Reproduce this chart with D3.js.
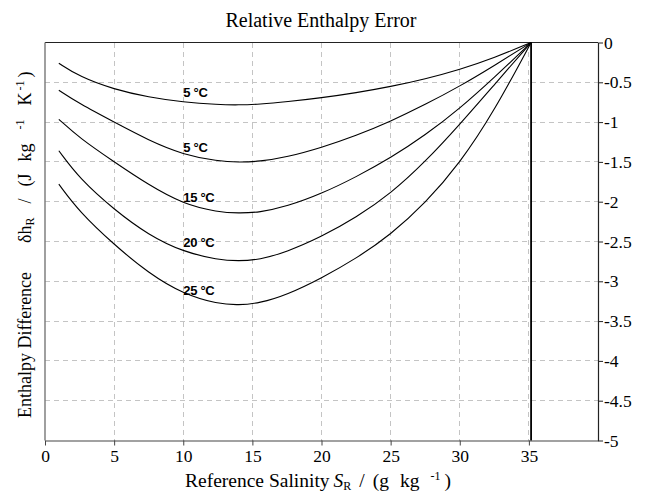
<!DOCTYPE html>
<html>
<head>
<meta charset="utf-8">
<script src="https://cdn.jsdelivr.net/npm/d3@7"></script>
<style>
  html, body { margin: 0; padding: 0; background: #fff; }
  svg { display: block; }
  text { font-family: "Liberation Serif", "Times New Roman", serif; fill: #000; }
</style>
</head>
<body>
<svg id="chart" width="650" height="494"></svg>
<script>
// Reference salinity sample points (g/kg)
const salinity = [1, 2.5, 5, 7.5, 10, 12.5, 14, 15.5, 17.5, 20, 22.5, 25, 27.5, 30, 32.5, 35.16];

// Enthalpy difference (J kg-1 K-1) for each temperature curve
const curve5a = [-0.26, -0.43, -0.59, -0.688, -0.75, -0.781, -0.785, -0.776, -0.745, -0.695, -0.632, -0.555, -0.458, -0.34, -0.192, 0];
const curve5b = [-0.60, -0.77, -1.00, -1.23, -1.41, -1.49, -1.505, -1.495, -1.44, -1.32, -1.17, -0.99, -0.78, -0.55, -0.29, 0];
const curve15 = [-0.965, -1.20, -1.50, -1.79, -2.03, -2.13, -2.145, -2.135, -2.06, -1.90, -1.69, -1.45, -1.165, -0.83, -0.44, 0];
const curve20 = [-1.36, -1.71, -2.10, -2.42, -2.63, -2.73, -2.745, -2.73, -2.63, -2.44, -2.20, -1.90, -1.50, -1.03, -0.53, 0];
const curve25 = [-1.78, -2.13, -2.54, -2.90, -3.16, -3.285, -3.30, -3.275, -3.17, -2.96, -2.715, -2.415, -2.02, -1.52, -0.86, 0];

const curveLabels = ["5 °C", "5 °C", "15 °C", "20 °C", "25 °C"];
const seriesList = [curve5a, curve5b, curve15, curve20, curve25];

// Reference salinity of standard seawater (vertical marker)
const referenceSalinity = 35.16;

// Axis ticks
const xTicks = [0, 5, 10, 15, 20, 25, 30, 35];
const yTicks = [0, -0.5, -1, -1.5, -2, -2.5, -3, -3.5, -4, -4.5, -5];

// Label anchors (salinity, enthalpy) for the curve annotations
const labelAnchorX = 10;
const labelAnchorY = [-0.68, -1.37, -2.01, -2.57, -3.17];

const svg = d3.select("#chart");
const plotLeft = 45, plotRight = 598, plotTop = 42.5, plotBottom = 440.5;

const x = d3.scaleLinear().domain([0, 40]).range([plotLeft, plotRight]);
const y = d3.scaleLinear().domain([-5, 0]).range([plotBottom, plotTop]);

// Grid
const grid = svg.append("g").attr("stroke", "#c4c4c4").attr("stroke-width", 1)
  .attr("stroke-dasharray", "5,4").attr("shape-rendering", "crispEdges");
grid.selectAll("line.v").data(xTicks.filter(d => d > 0)).join("line").attr("class", "v")
  .attr("x1", d => x(d)).attr("x2", d => x(d)).attr("y1", plotTop).attr("y2", plotBottom);
grid.selectAll("line.h").data(yTicks.filter(d => d < 0 && d > -5)).join("line").attr("class", "h")
  .attr("x1", plotLeft).attr("x2", plotRight).attr("y1", d => y(d)).attr("y2", d => y(d));

// Frame: top and left edges
svg.append("line").attr("x1", plotLeft).attr("x2", plotRight).attr("y1", plotTop).attr("y2", plotTop)
  .attr("stroke", "#222").attr("stroke-width", 1.2);
svg.append("line").attr("x1", plotLeft).attr("x2", plotLeft).attr("y1", plotTop).attr("y2", plotBottom)
  .attr("stroke", "#777").attr("stroke-width", 1.4);

// Bottom axis
const xAxis = d3.axisBottom(x).tickValues(xTicks).tickSize(5).tickSizeOuter(0).tickPadding(4)
  .tickFormat(d3.format("d"));
const gx = svg.append("g").attr("transform", `translate(0,${plotBottom})`).call(xAxis);
gx.select(".domain").attr("stroke", "#444").attr("stroke-width", 1.2);
gx.selectAll(".tick line").attr("stroke", "#444");
gx.selectAll(".tick text").style("font-family", "Liberation Serif").style("font-size", "17.5px").attr("fill", "#000");

// Right axis
const yAxis = d3.axisRight(y).tickValues(yTicks).tickSize(5).tickSizeOuter(0).tickPadding(1)
  .tickFormat(d => String(d));
const gy = svg.append("g").attr("transform", `translate(${plotRight},0)`).call(yAxis);
gy.select(".domain").attr("stroke", "#222").attr("stroke-width", 1.2);
gy.selectAll(".tick line").attr("stroke", "#222");
gy.selectAll(".tick text").style("font-family", "Liberation Serif").style("font-size", "17.5px").attr("fill", "#000");

// Vertical marker at reference salinity
svg.append("line").attr("x1", x(referenceSalinity)).attr("x2", x(referenceSalinity))
  .attr("y1", plotTop).attr("y2", plotBottom).attr("stroke", "#000").attr("stroke-width", 1.8);

// Curves (smoothed B-spline through the sampled values)
const line = d3.line().x((d, i) => x(salinity[i])).y(d => y(d)).curve(d3.curveBasis);
svg.append("g").selectAll("path").data(seriesList).join("path")
  .attr("d", d => line(d)).attr("fill", "none").attr("stroke", "#000").attr("stroke-width", 1.1);

// Curve annotations
svg.append("g").selectAll("text").data(curveLabels).join("text")
  .attr("x", x(labelAnchorX)).attr("y", (d, i) => y(labelAnchorY[i]))
  .style("font-family", "Liberation Sans, Arial, sans-serif").style("font-weight", "bold")
  .style("font-size", "13px").attr("letter-spacing", "-0.3")
  .text(d => d);

// Title
svg.append("text").attr("x", 321).attr("y", 27).attr("text-anchor", "middle")
  .style("font-size", "20px").text("Relative Enthalpy Error");

// X-axis title
const xt = svg.append("text").attr("x", 185).attr("y", 487).style("font-size", "19.5px");
xt.append("tspan").text("Reference Salinity");
xt.append("tspan").attr("dx", 4).style("font-style", "italic").text("S");
xt.append("tspan").attr("dy", 3).style("font-size", "12px").text("R");
xt.append("tspan").attr("dy", -3).attr("dx", 8).text("/");
xt.append("tspan").attr("dx", 8).text("(g");
xt.append("tspan").attr("dx", 11).text("kg");
xt.append("tspan").attr("dy", -7).attr("dx", 11).style("font-size", "12px").text("-1");
xt.append("tspan").attr("dy", 7).attr("dx", 4).text(")");

// Y-axis title
const yt = svg.append("text").attr("transform", "translate(31,418) rotate(-90)")
  .attr("text-anchor", "start").style("font-size", "18px");
yt.append("tspan").text("Enthalpy Difference");
yt.append("tspan").attr("dx", 29).text("δh");
yt.append("tspan").attr("dy", 3).style("font-size", "12px").text("R");
yt.append("tspan").attr("dy", -3).attr("dx", 14).text("/");
yt.append("tspan").attr("dx", 12).text("(J");
yt.append("tspan").attr("dx", 12).text("kg");
yt.append("tspan").attr("dy", -7).attr("dx", 14).style("font-size", "12px").text("-1");
yt.append("tspan").attr("dy", 7).attr("dx", 14).text("K");
yt.append("tspan").attr("dy", -7).attr("dx", 2).style("font-size", "12px").text("-1");
yt.append("tspan").attr("dy", 7).attr("dx", 3).text(")");
</script>
</body>
</html>
